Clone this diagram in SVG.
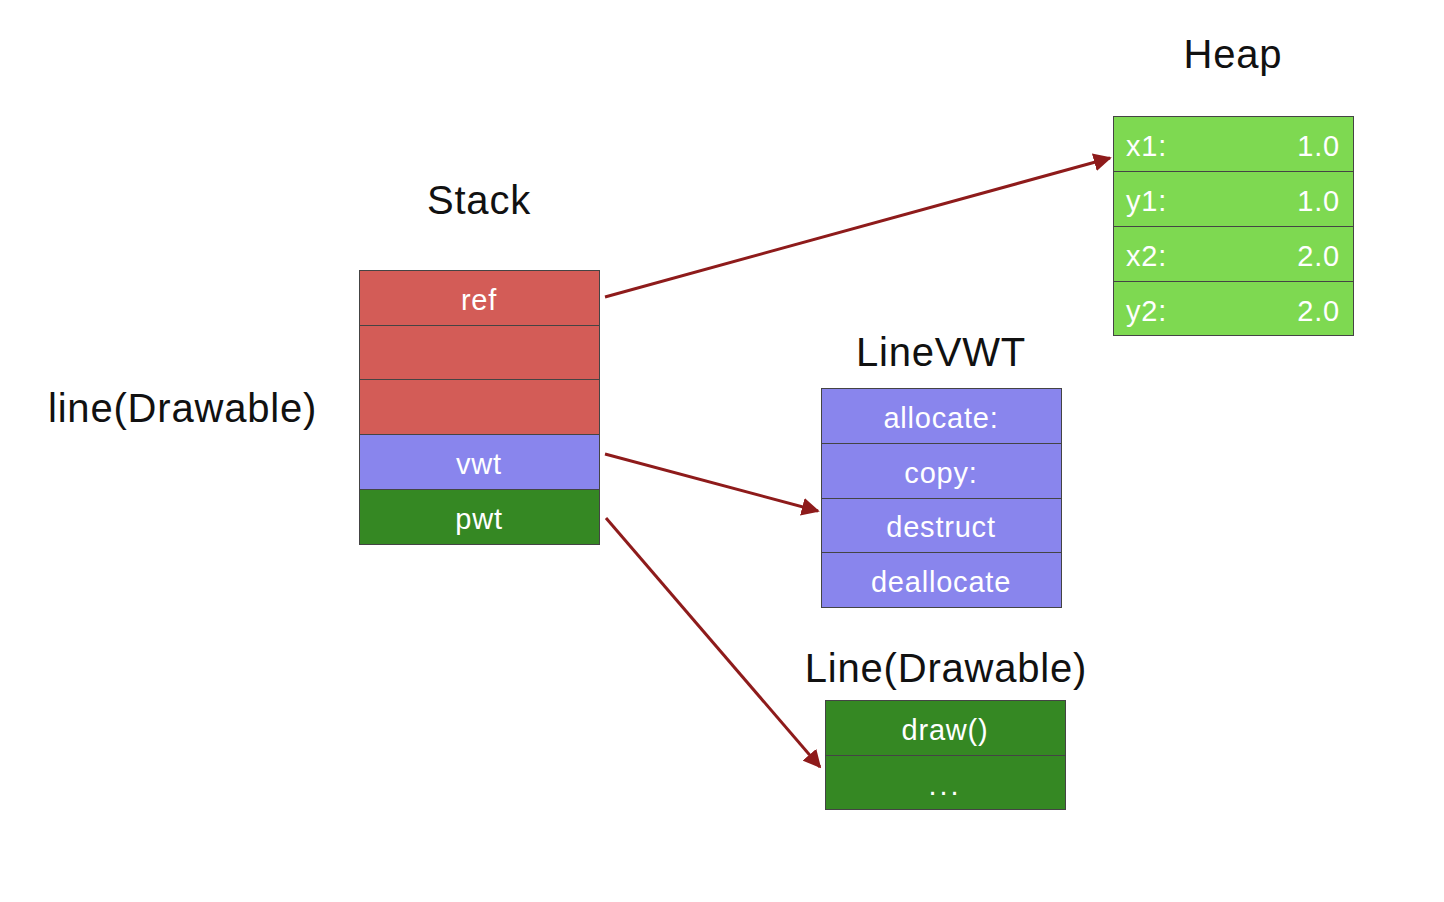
<svg xmlns="http://www.w3.org/2000/svg" width="1444" height="902" viewBox="0 0 1444 902">
<defs>
<style>
.cell{stroke:#444;stroke-width:1}
.red{fill:#D35C57}
.pur{fill:#8985ED}
.dg{fill:#358823}
.lg{fill:#7ED951}
.t{font-family:"Liberation Sans",Arial,sans-serif;font-size:29px;fill:#fff;letter-spacing:0.8px}
.c{text-anchor:middle}
.e{text-anchor:end}
.title{font-family:"Liberation Sans",Arial,sans-serif;font-size:40px;fill:#111;letter-spacing:0.8px}
.arr{stroke:#8E1B1B;stroke-width:3;fill:none;marker-end:url(#ah)}
</style>
<marker id="ah" viewBox="0 0 10 10" refX="9" refY="5" markerWidth="6" markerHeight="6" markerUnits="strokeWidth" orient="auto">
<path d="M0,0 L10,5 L0,10 z" fill="#8E1B1B"/>
</marker>
</defs>
<rect width="1444" height="902" fill="#fff"/>
<g id="label-line">
<text class="title" x="48" y="422">line(Drawable)</text>
</g>
<g id="stack">
<text class="title c" x="479" y="214">Stack</text>
<rect class="cell red" x="359.5" y="270.5" width="240" height="55"/>
<rect class="cell red" x="359.5" y="325.5" width="240" height="54"/>
<rect class="cell red" x="359.5" y="379.5" width="240" height="55"/>
<rect class="cell pur" x="359.5" y="434.5" width="240" height="55"/>
<rect class="cell dg" x="359.5" y="489.5" width="240" height="55"/>
<text class="t c" x="479" y="310">ref</text>
<text class="t c" x="479" y="474">vwt</text>
<text class="t c" x="479" y="529">pwt</text>
</g>
<g id="heap">
<text class="title c" x="1233" y="68">Heap</text>
<rect class="cell lg" x="1113.5" y="116.5" width="240" height="55"/>
<rect class="cell lg" x="1113.5" y="171.5" width="240" height="55"/>
<rect class="cell lg" x="1113.5" y="226.5" width="240" height="55"/>
<rect class="cell lg" x="1113.5" y="281.5" width="240" height="54"/>
<text class="t" x="1126" y="156">x1:</text>
<text class="t e" x="1340" y="156">1.0</text>
<text class="t" x="1126" y="211">y1:</text>
<text class="t e" x="1340" y="211">1.0</text>
<text class="t" x="1126" y="266">x2:</text>
<text class="t e" x="1340" y="266">2.0</text>
<text class="t" x="1126" y="321">y2:</text>
<text class="t e" x="1340" y="321">2.0</text>
</g>
<g id="linevwt">
<text class="title c" x="941" y="366">LineVWT</text>
<rect class="cell pur" x="821.5" y="388.5" width="240" height="55"/>
<rect class="cell pur" x="821.5" y="443.5" width="240" height="55"/>
<rect class="cell pur" x="821.5" y="498.5" width="240" height="54"/>
<rect class="cell pur" x="821.5" y="552.5" width="240" height="55"/>
<text class="t c" x="941" y="428">allocate:</text>
<text class="t c" x="941" y="483">copy:</text>
<text class="t c" x="941" y="537">destruct</text>
<text class="t c" x="941" y="592">deallocate</text>
</g>
<g id="linedrawable">
<text class="title c" x="946" y="682">Line(Drawable)</text>
<rect class="cell dg" x="825.5" y="700.5" width="240" height="55"/>
<rect class="cell dg" x="825.5" y="755.5" width="240" height="54"/>
<text class="t c" x="945" y="740">draw()</text>
<text class="t c" x="945" y="795" style="letter-spacing:3px">...</text>
</g>
<g id="connectors">
<line class="arr" x1="605" y1="297" x2="1110" y2="158"/>
<line class="arr" x1="605" y1="454" x2="818" y2="511"/>
<line class="arr" x1="606" y1="518" x2="820" y2="767"/>
</g>
</svg>
